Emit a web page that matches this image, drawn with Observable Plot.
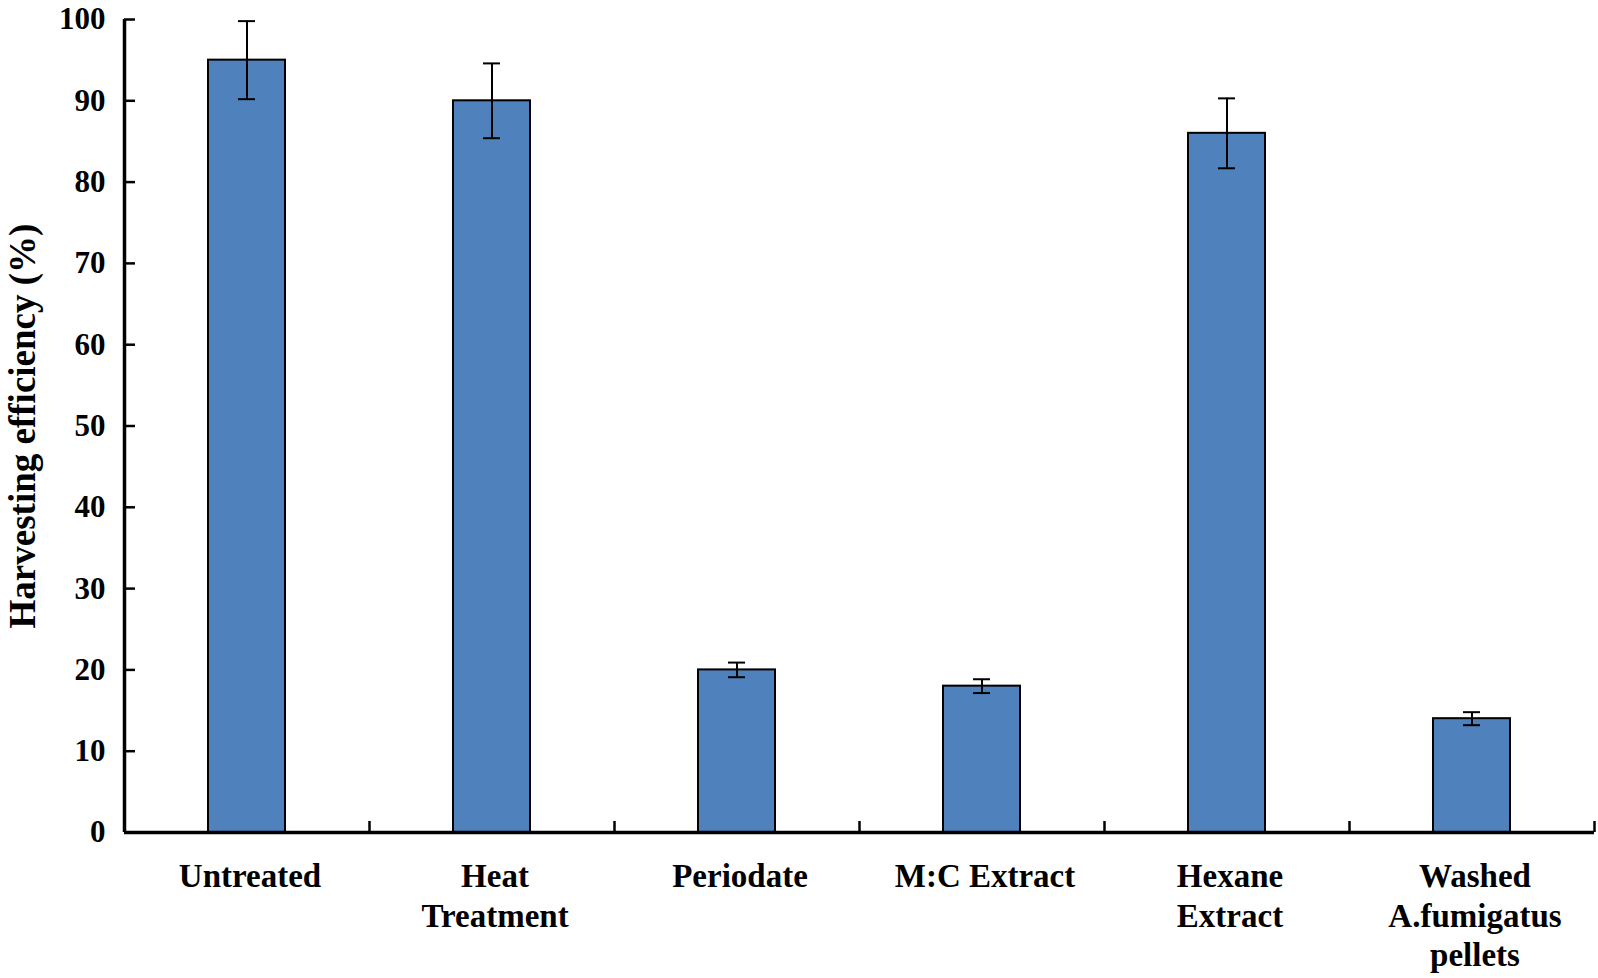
<!DOCTYPE html>
<html>
<head>
<meta charset="utf-8">
<script src="https://cdn.jsdelivr.net/npm/d3@7"></script>
<script src="https://cdn.jsdelivr.net/npm/@observablehq/plot@0.6"></script>
<style>
  html, body { margin: 0; padding: 0; background: #fff; }
  #chart svg { display: block; }
</style>
</head>
<body>
<div id="chart"></div>
<script>
// ---- Data ----
const categories = ["Untreated", "Heat Treatment", "Periodate", "M:C Extract", "Hexane Extract", "Washed A.fumigatus pellets"];
const xLabels = ["Untreated", "Heat\nTreatment", "Periodate", "M:C Extract", "Hexane\nExtract", "Washed\nA.fumigatus\npellets"];
const values = [95, 90, 20, 18, 86, 14];
const errors = [4.8, 4.6, 0.9, 0.85, 4.3, 0.8];
const yTicks = [0, 10, 20, 30, 40, 50, 60, 70, 80, 90, 100];
const yTitle = "Harvesting efficiency (%)";

// ---- Layout ----
const W = 1598, H = 978;
const ml = 124, mr = 4, mt = 19, mb = 146;
const innerW = W - ml - mr, innerH = H - mt - mb;
const step = innerW / categories.length;
const font = "'Liberation Serif', 'Times New Roman', Times, serif";

const data = categories.map((c, i) => ({c, label: xLabels[i], v: values[i], e: errors[i]}));

const chart = Plot.plot({
  width: W,
  height: H,
  marginLeft: ml,
  marginRight: mr,
  marginTop: mt,
  marginBottom: mb,
  style: {fontFamily: font, background: "#fff", color: "#000", overflow: "visible"},
  x: {type: "band", domain: categories, paddingInner: 0.685, paddingOuter: 0.3425, axis: null},
  y: {domain: [0, 100], axis: null},
  marks: [
    Plot.barY(data, {x: "c", y: "v", fill: "#4F81BD", stroke: "#000", strokeWidth: 2}),
    // error bars
    Plot.ruleX(data, {x: "c", y1: d => d.v - d.e, y2: d => d.v + d.e, stroke: "#000", strokeWidth: 2}),
    Plot.tickY(data, {x: "c", y: d => d.v + d.e, stroke: "#000", strokeWidth: 2, insetLeft: 30, insetRight: 30}),
    Plot.tickY(data, {x: "c", y: d => d.v - d.e, stroke: "#000", strokeWidth: 2, insetLeft: 30, insetRight: 30}),
    // y axis ticks (inward)
    Plot.ruleY(yTicks, {y: d => d, stroke: "#000", strokeWidth: 2.5, insetRight: innerW - 11}),
    // x boundary ticks (inward)
    Plot.ruleX(categories, {x: d => d, dx: step / 2, stroke: "#000", strokeWidth: 2.5, insetTop: innerH - 11}),
    // axis lines
    Plot.ruleY([0], {stroke: "#000", strokeWidth: 3.5}),
    Plot.ruleX([categories[0]], {x: d => d, dx: -step / 2, stroke: "#000", strokeWidth: 3.5}),
    // y tick labels
    Plot.text(yTicks, {y: d => d, text: d => String(d), frameAnchor: "left", dx: -19, textAnchor: "end",
      fontSize: 31, fontWeight: "bold", fontFamily: font, fill: "#000"}),
    // x labels
    Plot.text(data, {x: "c", text: "label", frameAnchor: "bottom", dx: 3, dy: 27, lineAnchor: "top", lineHeight: 1.19,
      fontSize: 33, fontWeight: "bold", fontFamily: font, fill: "#000"}),
    // y title
    Plot.text([yTitle], {text: d => d, frameAnchor: "left", dx: -101, rotate: -90, textAnchor: "middle",
      fontSize: 37, fontWeight: "bold", fontFamily: font, fill: "#000"})
  ]
});

document.getElementById("chart").appendChild(chart);
</script>
</body>
</html>
